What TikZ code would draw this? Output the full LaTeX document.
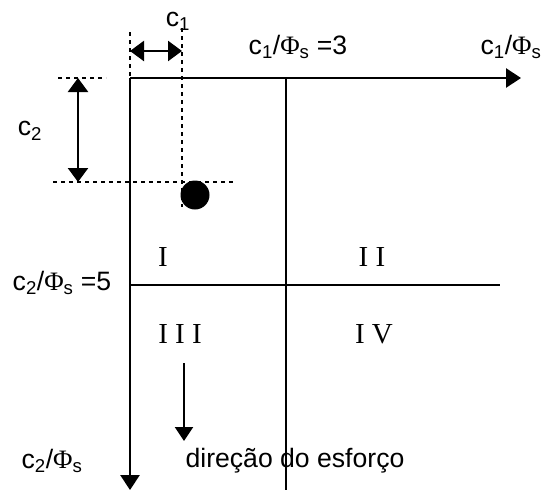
\documentclass[tikz,border=0pt]{standalone}
\usepackage{fontspec}
\setmainfont{Liberation Sans}
\newfontfamily\serifnum{Liberation Serif}
\usetikzlibrary{arrows.meta}

\tikzset{
    axis/.style={line width=2.8pt},
    guide/.style={line width=1.7pt, dash pattern=on 4pt off 4pt},
    dimarrow/.style={line width=2.4pt, {Triangle[length=14pt,width=20pt]}-{Triangle[length=14pt,width=20pt]}},
    lbl/.style={font=\fontsize{26.6}{30}\selectfont, inner sep=0pt},
    zone/.style={font=\serifnum\fontsize{29}{32}\selectfont, inner sep=0pt}
}

\begin{document}
\begin{tikzpicture}[x=1pt,y=-1pt]
    \useasboundingbox (0,0) rectangle (545,490);
    % axes and limits
    \coordinate (O) at (130,78);
    \coordinate (xend) at (521,78);
    \coordinate (yend) at (130,490);
    \coordinate (vtop) at (286,78);
    \coordinate (vbot) at (286,490);
    \coordinate (hleft) at (130,285);
    \coordinate (hright) at (500,285);
    \draw[axis, -{Triangle[length=15pt,width=19pt]}] (O) -- (xend);
    \draw[axis, -{Triangle[length=15pt,width=19pt]}] (O) -- (yend);
    \draw[axis] (vtop) -- (vbot);
    \draw[axis] (hleft) -- (hright);
    % dotted guides
    \coordinate (g1a) at (130,32);
    \coordinate (g2a) at (182,28);
    \coordinate (g2b) at (182,207);
    \coordinate (g3a) at (58,78);
    \coordinate (g3b) at (106,78);
    \coordinate (g4a) at (53,182);
    \coordinate (g4b) at (236,182);
    \draw[guide] (g1a) -- (O);
    \draw[guide] (g2a) -- (g2b);
    \draw[guide] (g3a) -- (g3b);
    \draw[guide] (g4a) -- (g4b);
    % offsets
    \coordinate (c1l) at (130,51);
    \coordinate (c1r) at (182,51);
    \coordinate (c2t) at (78,78);
    \coordinate (c2b) at (78,182);
    \draw[dimarrow] (c1l) -- (c1r);
    \draw[dimarrow] (c2t) -- (c2b);
    \node[lbl] (c1) at (178,21) {c\textsubscript{1}};
    \node[lbl] (c2) at (30,131) {c\textsubscript{2}};
    \fill (195,195) circle (14.5pt);
    % axis labels
    \node[lbl] (lim1) at (298,47) {c\textsubscript{1}/{\serifnum Φ}\textsubscript{s} =3};
    \node[lbl] (ax1) at (511,47) {c\textsubscript{1}/{\serifnum Φ}\textsubscript{s}};
    \node[lbl] (lim2) at (62,283) {c\textsubscript{2}/{\serifnum Φ}\textsubscript{s} =5};
    \node[lbl] (ax2) at (52,461) {c\textsubscript{2}/{\serifnum Φ}\textsubscript{s}};
    % zones
    \node[zone] (z1) at (163,257) {I};
    \node[zone] (z2) at (372,257) {I I};
    \node[zone] (z3) at (180,334) {I I I};
    \node[zone] (z4) at (374,334) {I V};
    % load direction
    \coordinate (fa) at (184,363);
    \coordinate (fb) at (184,441);
    \draw[line width=2pt, -{Triangle[length=14pt,width=18pt]}] (fa) -- (fb);
    \node[lbl] (dir) at (295,461) {direção do esforço};
\end{tikzpicture}
\end{document}
